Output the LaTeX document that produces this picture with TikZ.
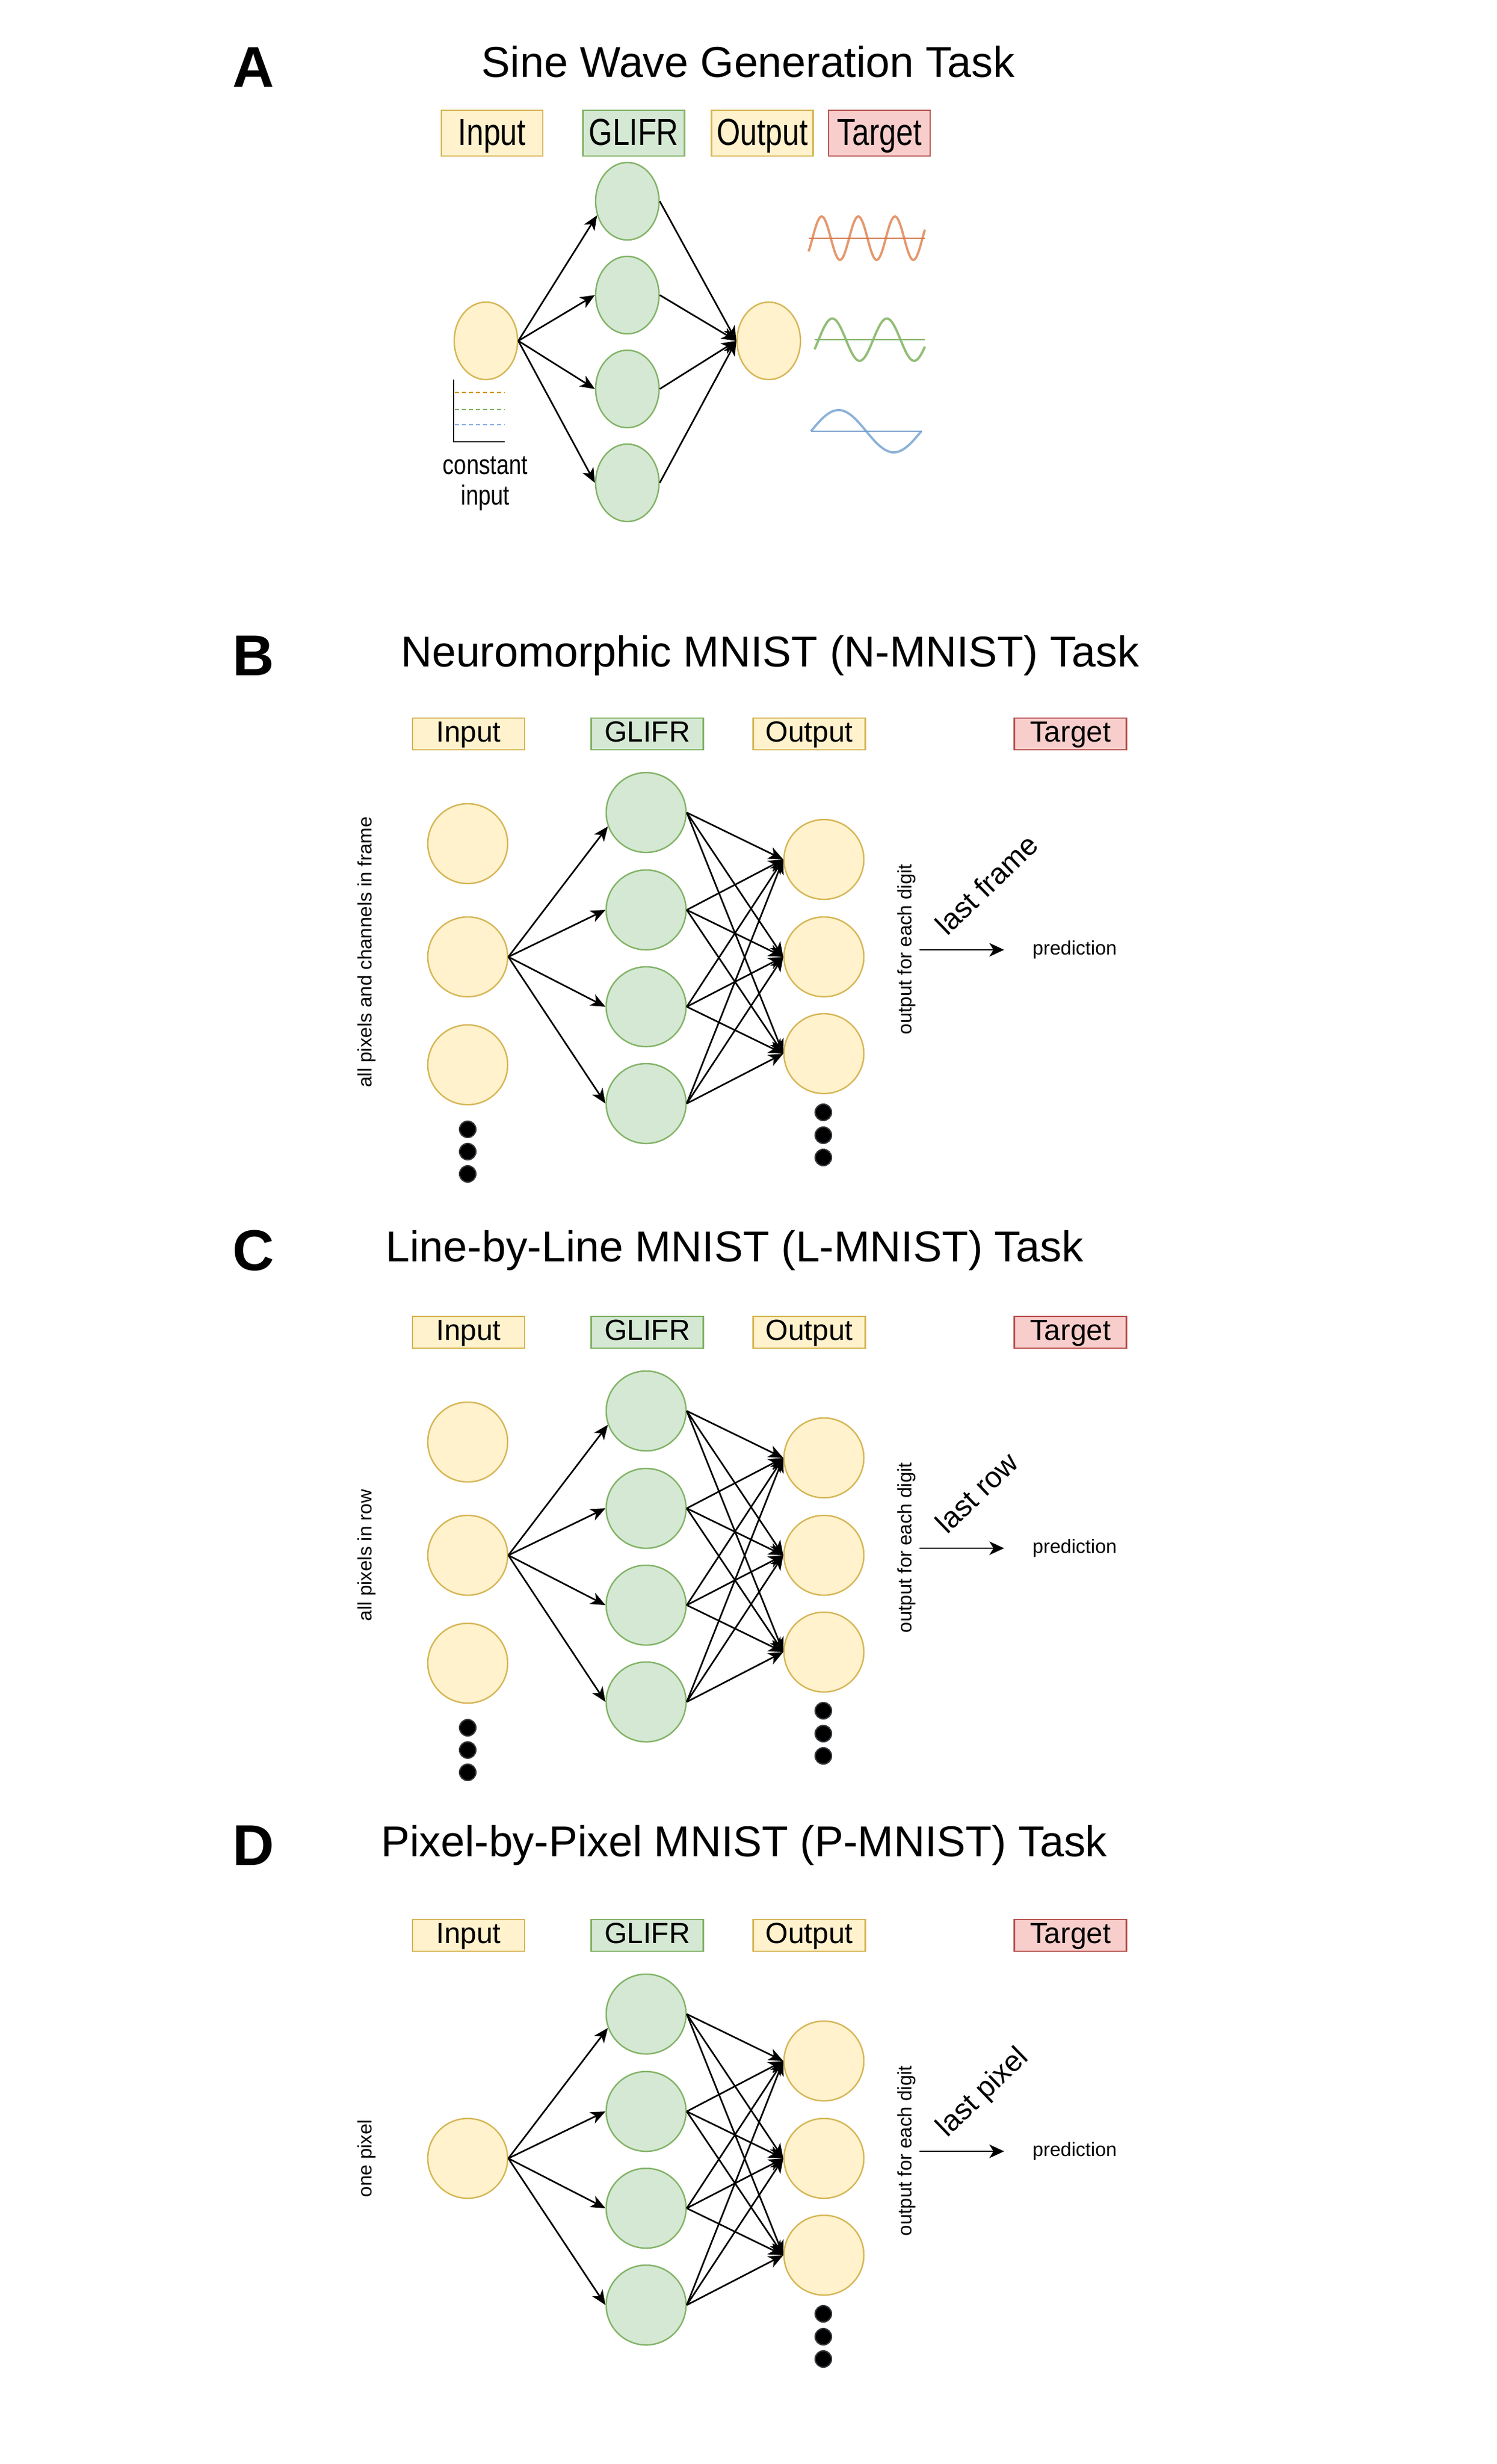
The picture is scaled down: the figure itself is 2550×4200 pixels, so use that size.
\documentclass[tikz,border=0pt]{standalone}
\usepackage{fontspec}
\setmainfont{Liberation Sans}
\newfontfamily\narrowfont[FakeStretch=0.81]{Liberation Sans}
\usetikzlibrary{arrows.meta,shapes.geometric}
\definecolor{yfill}{HTML}{FFF2CC}
\definecolor{ydraw}{HTML}{D6B656}
\definecolor{gfill}{HTML}{D5E8D4}
\definecolor{gdraw}{HTML}{82B366}
\definecolor{rfill}{HTML}{F8CECC}
\definecolor{rdraw}{HTML}{B85450}
\definecolor{dotdraw}{HTML}{36393D}
\definecolor{dashor}{HTML}{D79B00}
\definecolor{dashgr}{HTML}{82B366}
\definecolor{dashbl}{HTML}{7EA6E0}
\definecolor{waveor}{RGB}{228,152,110}
\definecolor{axisor}{RGB}{214,118,68}
\definecolor{wavegr}{RGB}{146,189,118}
\definecolor{axisgr}{RGB}{136,184,112}
\definecolor{wavebl}{RGB}{140,178,216}
\definecolor{axisbl}{RGB}{108,152,202}
\tikzset{
  yneuron/.style={circle, draw=ydraw, fill=yfill, line width=0.7pt, minimum size=1.36cm, inner sep=0pt},
  gneuron/.style={circle, draw=gdraw, fill=gfill, line width=0.7pt, minimum size=1.36cm, inner sep=0pt},
  aneuron/.style={ellipse, line width=0.7pt, minimum width=1.08cm, minimum height=1.32cm, inner sep=0pt},
  lbox/.style={draw, line width=0.7pt, minimum width=1.91cm, minimum height=0.54cm, inner sep=0pt,
    text height=0.36cm, text depth=0.10cm, font=\fontsize{14.1}{16}\selectfont},
  albox/.style={draw, line width=0.7pt, minimum width=1.73cm, minimum height=0.78cm, inner sep=0pt,
    text height=0.46cm, text depth=0.06cm, font=\narrowfont\fontsize{18.2}{20}\selectfont},
  conn/.style={line width=0.78pt, -{Stealth[length=0.25cm,width=0.21cm,inset=0.07cm]}},
  predarrow/.style={line width=0.78pt, -{Stealth[length=0.25cm,width=0.23cm,inset=0.07cm]}},
  dotn/.style={circle, fill=black, draw=dotdraw, line width=0.6pt, minimum size=0.28cm, inner sep=0pt},
  ttl/.style={font=\fontsize{20.9}{25}\selectfont, anchor=base, inner sep=0pt},
  plet/.style={font=\bfseries\fontsize{27.9}{32}\selectfont, anchor=base west, inner sep=0pt},
  smalltxt/.style={font=\fontsize{9.4}{11}\selectfont, inner sep=0pt},
  lastlbl/.style={font=\fontsize{14.2}{16}\selectfont, inner sep=0pt},
  cilbl/.style={font=\narrowfont\fontsize{13.4}{15}\selectfont, anchor=base, inner sep=0pt},
  dashln/.style={line width=0.6pt, dash pattern=on 0.07cm off 0.05cm},
}
\begin{document}
\begin{tikzpicture}[x=0.01cm,y=-0.01cm]
\path[use as bounding box, fill=white] (0,0) rectangle (2550,4200);

% ---------------- Panel A ----------------
\node[plet] (a-letter) at (396,149) {A};
\node[ttl] (a-title) at (1275,132) {Sine Wave Generation Task};
\node[albox, draw=ydraw, fill=yfill] (a-lin) at (838.5,227) {Input};
\node[albox, draw=gdraw, fill=gfill] (a-lgl) at (1080,227) {GLIFR};
\node[albox, draw=ydraw, fill=yfill] (a-lout) at (1299,227) {Output};
\node[albox, draw=rdraw, fill=rfill] (a-ltg) at (1498.5,227) {Target};

\node[aneuron, draw=ydraw, fill=yfill] (a-in) at (828,581) {};
\foreach \i/\y in {1/343,2/503,3/663,4/823}
  \node[aneuron, draw=gdraw, fill=gfill] (a-g\i) at (1069,\y) {};
\node[aneuron, draw=ydraw, fill=yfill] (a-out) at (1310,581) {};

\draw[conn] (a-in.east) -- (a-g1.205);
\foreach \i in {2,3,4} \draw[conn] (a-in.east) -- (a-g\i.west);
\foreach \i in {1,...,4} \draw[conn] (a-g\i.east) -- (a-out.west);

% constant input plot
\coordinate (ax0) at (773,647);
\coordinate (ax1) at (773,753);
\coordinate (ax2) at (860,753);
\coordinate (d1a) at (775,669); \coordinate (d1b) at (860,669);
\coordinate (d2a) at (775,698); \coordinate (d2b) at (860,698);
\coordinate (d3a) at (775,724); \coordinate (d3b) at (860,724);
\draw[dashln, dashor] (d1a) -- (d1b);
\draw[dashln, dashgr] (d2a) -- (d2b);
\draw[dashln, dashbl] (d3a) -- (d3b);
\draw[line width=0.7pt] (ax0) -- (ax1) -- (ax2);
\node[cilbl] (a-ci1) at (827,808) {constant};
\node[cilbl] (a-ci2) at (827,860) {input};

% target waves
\draw[waveor, line width=1.1pt] plot[domain=-6.5:191.5, samples=140, smooth] ({1384.5+\x}, {406-37*sin(\x/62.5*360)});
\coordinate (wo1) at (1378,406); \coordinate (wo2) at (1576,406);
\draw[axisor, line width=0.7pt] (wo1) -- (wo2);
\draw[wavegr, line width=1.1pt] plot[domain=-7:181, samples=120, smooth] ({1395+\x}, {579-36*sin(\x/93*360)});
\coordinate (wg1) at (1388,579); \coordinate (wg2) at (1576,579);
\draw[axisgr, line width=0.7pt] (wg1) -- (wg2);
\draw[wavebl, line width=1.1pt] plot[domain=0:188, samples=100, smooth] ({1382+\x}, {735-36*sin(\x/188*360)});
\coordinate (wb1) at (1382,735); \coordinate (wb2) at (1571,735);
\draw[axisbl, line width=0.7pt] (wb1) -- (wb2);

% ---------------- Panels B, C, D ----------------
\foreach \p/\dy/\tb/\tx/\L/\T/\lt/\ly/\lst in {
  b/0/1136/1312/B/{Neuromorphic MNIST (N-MNIST) Task}/{all pixels and channels in frame}/1623/{last frame},
  c/1020/2150/1252/C/{Line-by-Line MNIST (L-MNIST) Task}/{all pixels in row}/1631/{last row},
  d/2048/3164/1268/D/{Pixel-by-Pixel MNIST (P-MNIST) Task}/{one pixel}/1631/{last pixel}}
{
  \node[ttl] (\p-title) at (\tx,\tb) {\T};
  \node[plet] (\p-letter) at (396,\tb+15) {\L};
  \begin{scope}[shift={(0,\dy)}]
    \node[lbox, draw=ydraw, fill=yfill] (\p-lin) at (798.5,1251) {Input};
    \node[lbox, draw=gdraw, fill=gfill] (\p-lgl) at (1103,1251) {GLIFR};
    \node[lbox, draw=ydraw, fill=yfill] (\p-lout) at (1379,1251) {Output};
    \node[lbox, draw=rdraw, fill=rfill] (\p-ltg) at (1824,1251) {Target};
    \foreach \i/\y in {1/1385,2/1551,3/1716,4/1881}
      \node[gneuron] (\p-g\i) at (1101,\y) {};
    \foreach \j/\y in {1/1465,2/1631,3/1796}
      \node[yneuron] (\p-o\j) at (1404,\y) {};
    \foreach \k/\y in {1/1896,2/1935,3/1973}
      \node[dotn] (\p-od\k) at (1403,\y) {};
    \node[yneuron] (\p-in2) at (797,1631) {};
    \foreach \i in {1,...,4}{
      \foreach \j in {1,2,3}{
        \draw[conn] (\p-g\i.east) -- (\p-o\j.west);
      }
    }
    \draw[conn] (\p-in2.east) -- (\p-g1.200);
    \foreach \i in {2,3,4} \draw[conn] (\p-in2.east) -- (\p-g\i.west);
    \node[smalltxt, rotate=90, anchor=base] (\p-ltxt) at (633,\ly) {\lt};
    \node[smalltxt, rotate=90, anchor=base] (\p-otxt) at (1553,1618) {output for each digit};
    \coordinate (\p-ps) at (1567,1619);
    \coordinate (\p-pe) at (1711,1619);
    \draw[predarrow] (\p-ps) -- (\p-pe);
    \node[smalltxt, anchor=west] (\p-pred) at (1759,1619) {prediction};
    \node[lastlbl, rotate=44, anchor=base west] (\p-last) at (1614,1597) {\lst};
  \end{scope}
}
% extra input neurons and dots for B and C
\foreach \p/\dy in {b/0, c/1020}{
  \begin{scope}[shift={(0,\dy)}]
    \node[yneuron] (\p-in1) at (797,1438) {};
    \node[yneuron] (\p-in3) at (797,1815) {};
    \foreach \k/\y in {1/1925,2/1963,3/2001}
      \node[dotn] (\p-id\k) at (797,\y) {};
  \end{scope}
}
\end{tikzpicture}
\end{document}
